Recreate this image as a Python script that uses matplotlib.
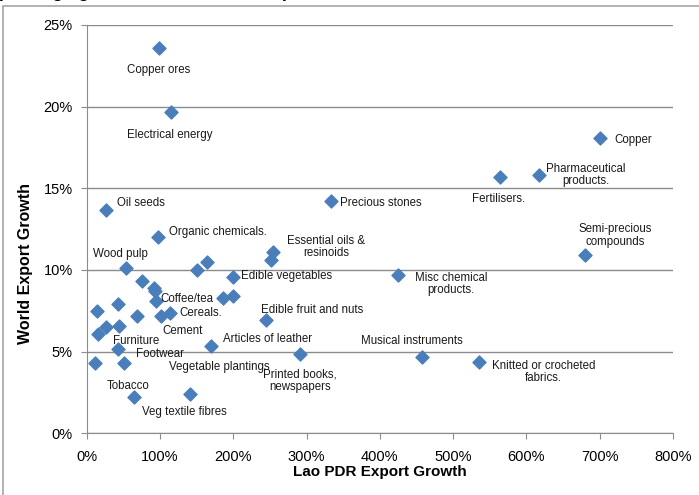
import matplotlib.pyplot as plt
from matplotlib.patches import Rectangle
from matplotlib.ticker import FuncFormatter

# Lao PDR export growth (%) vs world export growth (%) by product
lao_growth = [98.6, 115, 700, 617, 564.5, 334, 26, 97.7, 254.5, 252,
              679.5, 53, 425, 151, 164, 199, 76, 92, 93.6, 94,
              185.5, 199, 13.6, 43, 68.6, 102, 113.6, 244.5, 16, 27,
              44, 169.5, 43, 11.3, 51, 291, 457.7, 535, 64.5, 141]
world_growth = [23.6, 19.7, 18.1, 15.8, 15.7, 14.2, 13.7, 12.0, 11.1, 10.6,
                10.9, 10.1, 9.7, 10.0, 10.5, 9.55, 9.34, 8.9, 8.7, 8.1,
                8.28, 8.42, 7.5, 7.9, 7.2, 7.2, 7.36, 6.95, 6.07, 6.48,
                6.6, 5.37, 5.15, 4.3, 4.3, 4.87, 4.66, 4.36, 2.25, 2.4]
products = ["Copper ores", "Electrical energy", "Copper", "Pharmaceutical\nproducts.",
            "Fertilisers.", "Precious stones", "Oil seeds", "Organic chemicals.",
            "Essential oils &\nresinoids", "", "Semi-precious\ncompounds", "Wood pulp",
            "Misc chemical\nproducts.", "", "", "Edible vegetables", "", "", "", "Coffee/tea",
            "", "", "", "", "", "Cement", "Cereals.", "Edible fruit and nuts", "", "",
            "Furniture", "Articles of leather", "Footwear", "", "Vegetable plantings",
            "Printed books,\nnewspapers", "Musical instruments",
            "Knitted or crocheted\nfabrics.", "Tobacco", "Veg textile fibres"]

# label placement: (dx, dy) in pixels from the marker, horizontal alignment
label_pos = {
    "Copper ores": (0, -22, "center"),
    "Electrical energy": (-1, -23, "center"),
    "Copper": (15, -2, "left"),
    "Pharmaceutical\nproducts.": (47, 0, "center"),
    "Fertilisers.": (-2, -22, "center"),
    "Precious stones": (9, -2, "left"),
    "Oil seeds": (11, 7, "left"),
    "Organic chemicals.": (11, 5, "left"),
    "Essential oils &\nresinoids": (53, 5, "center"),
    "Semi-precious\ncompounds": (30, 20, "center"),
    "Wood pulp": (-5, 14, "center"),
    "Misc chemical\nproducts.": (53, -9, "center"),
    "Edible vegetables": (8, 1, "left"),
    "Coffee/tea": (5, 2, "left"),
    "Cement": (21, -15, "center"),
    "Cereals.": (9, 0, "left"),
    "Edible fruit and nuts": (46, 10, "center"),
    "Furniture": (17, -15, "center"),
    "Articles of leather": (12, 7, "left"),
    "Footwear": (42, -5, "center"),
    "Vegetable plantings": (95, -4, "center"),
    "Printed books,\nnewspapers": (0, -27, "center"),
    "Musical instruments": (-10, 16, "center"),
    "Knitted or crocheted\nfabrics.": (65, -10, "center"),
    "Tobacco": (-6, 11, "center"),
    "Veg textile fibres": (-6, -18, "center"),
}

plt.rcParams['font.family'] = ['Liberation Sans', 'DejaVu Sans']

W, H = 699, 495
fig = plt.figure(figsize=(W / 100, H / 100), dpi=100)
ax = fig.add_axes([86.7 / W, (H - 433.3) / H, (673 - 86.7) / W, (433.3 - 25) / H])

# chart area border
fig.patches.append(Rectangle((3 / W, -0.1), 1.2, 1.1 - 6 / H, transform=fig.transFigure,
                             fill=False, edgecolor='#a6a6a6', linewidth=1.2))
fig.text(-0.005, 1 + 3 / H, "(Average growth rates, 2005-2010)", fontsize=13,
         fontweight='bold', va='baseline', ha='left')

ax.scatter(lao_growth, world_growth, marker='D', s=44, color='#4a7ebb', zorder=3)

for x, y, name in zip(lao_growth, world_growth, products):
    if not name:
        continue
    dx, dy, ha = label_pos[name]
    ax.annotate(name, (x, y), xytext=(dx, dy), textcoords='offset pixels',
                ha=ha, va='center', multialignment='center', fontsize=8.3,
                color='#1a1a1a', linespacing=1.05)

ax.set_xlim(0, 800)
ax.set_ylim(0, 25)
ax.set_xticks(range(0, 801, 100))
ax.set_yticks(range(0, 26, 5))
ax.xaxis.set_major_formatter(FuncFormatter(lambda v, p: f"{v:.0f}%"))
ax.yaxis.set_major_formatter(FuncFormatter(lambda v, p: f"{v:.0f}%"))
ax.grid(axis='y', color='#8c8c8c', linewidth=1)
ax.set_axisbelow(True)
for s in ['top', 'right']:
    ax.spines[s].set_visible(False)
for s in ['left', 'bottom']:
    ax.spines[s].set_color('#8c8c8c')
ax.tick_params(colors='#8c8c8c', labelcolor='black', labelsize=10.5, length=4,
               direction='out')
ax.tick_params(axis='x', pad=8)
ax.tick_params(axis='y', pad=6)

ax.set_xlabel("Lao PDR Export Growth", fontsize=11, fontweight='bold')
ax.set_ylabel("World Export Growth", fontsize=11.5, fontweight='bold')
ax.xaxis.set_label_coords(0.5, -0.078)
ax.yaxis.set_label_coords(-0.0916, 0.415)

fig.savefig("out.png", dpi=100)
